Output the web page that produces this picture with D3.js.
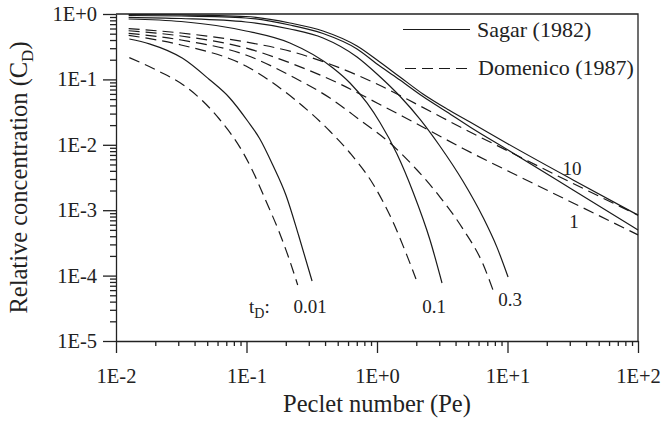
<!DOCTYPE html>
<html>
<head>
<meta charset="utf-8">
<title>Relative concentration vs Peclet number</title>
<script src="https://cdn.jsdelivr.net/npm/d3@7"></script>
<style>
body { margin: 0; background: #fff; }
text { font-family: "Liberation Serif", "Times New Roman", serif; fill: #222; }
.axis path, .axis line { stroke: #222; stroke-width: 1.3px; }
.axis text { font-size: 20.5px; }
.curve { fill: none; stroke: #1a1a1a; stroke-width: 1.2px; }
.dash { stroke-dasharray: 11,6; }
</style>
</head>
<body>
<svg id="chart" width="663" height="423"></svg>
<script>

// tick labels
var xTickValues = [0.01, 0.1, 1, 10, 100];
var xTickLabels = ["1E-2", "1E-1", "1E+0", "1E+1", "1E+2"];
var yTickValues = [1e-5, 1e-4, 1e-3, 1e-2, 1e-1, 1];
var yTickLabels = ["1E-5", "1E-4", "1E-3", "1E-2", "1E-1", "1E+0"];

// Sagar (1982), solid
var sagarPe10 = [0.0125, 0.0315, 0.099, 0.215, 0.386, 0.703, 1.05, 1.5, 2.25, 3.44, 5.16, 10.1, 31.8, 100];
var sagarC10  = [0.983, 0.972, 0.916, 0.728, 0.55, 0.324, 0.1845, 0.1088, 0.0598, 0.0353, 0.0223, 0.0103, 0.0029, 0.00084];
var sagarPe1  = [0.0125, 0.0315, 0.099, 0.215, 0.386, 0.703, 1.05, 1.5, 2.25, 3.44, 5.16, 10.1, 31.8, 100];
var sagarC1   = [0.949, 0.932, 0.869, 0.679, 0.503, 0.292, 0.160, 0.0979, 0.0548, 0.0317, 0.0187, 0.0083, 0.00204, 0.0005];
var sagarPe03 = [0.0125, 0.0315, 0.099, 0.215, 0.386, 0.703, 1.0, 1.5, 2.14, 3.04, 4.56, 6.49, 8.31, 10.1];
var sagarC03  = [0.89, 0.853, 0.755, 0.59, 0.43, 0.22, 0.121, 0.0552, 0.0245, 0.0095, 0.00277, 0.00078, 0.00027, 0.0000952];
var sagarPe01 = [0.0125, 0.0315, 0.0584, 0.099, 0.215, 0.46, 0.621, 0.838, 1.054, 1.423, 1.888, 2.548, 3.149];
var sagarC01  = [0.839, 0.768, 0.667, 0.55, 0.36, 0.1493, 0.0881, 0.0436, 0.0219, 0.00723, 0.0019, 0.00035, 0.000077];
var sagarPe001 = [0.01265, 0.018, 0.0324, 0.0519, 0.0738, 0.102, 0.126, 0.159, 0.201, 0.251, 0.318];
var sagarC001  = [0.415, 0.35, 0.21, 0.0997, 0.0529, 0.0231, 0.0125, 0.00491, 0.00168, 0.00041, 0.0000827];

// Domenico (1987), dashed
var domPe10 = [0.0125, 0.0315, 0.099, 0.227, 0.521, 1.0, 2.14, 5.16, 10.45, 31.8, 100];
var domC10  = [0.596, 0.512, 0.373, 0.2624, 0.1493, 0.085, 0.0392, 0.0157, 0.00776, 0.00256, 0.00084];
var domPe1  = [0.0125, 0.0315, 0.099, 0.227, 0.521, 1.0, 1.58, 2.55, 4.56, 10.45, 31.8, 100];
var domC1   = [0.555, 0.461, 0.302, 0.172, 0.085, 0.0436, 0.0271, 0.0163, 0.00878, 0.00384, 0.00129, 0.00042];
var domPe03 = [0.0125, 0.0315, 0.099, 0.227, 0.436, 0.741, 1.258, 2.026, 3.04, 4.56, 6.49, 7.74];
var domC03  = [0.507, 0.4, 0.236, 0.1088, 0.0519, 0.0239, 0.01065, 0.00412, 0.00159, 0.000516, 0.00015, 0.0000602];
var domPe01 = [0.0125, 0.0315, 0.099, 0.227, 0.436, 0.621, 0.932, 1.326, 1.698, 1.99];
var domC01  = [0.472, 0.336, 0.16, 0.0519, 0.0161, 0.00749, 0.00252, 0.00066, 0.000202, 0.0000887];
var domPe001 = [0.01265, 0.0215, 0.0324, 0.0462, 0.0619, 0.0935, 0.1115, 0.141, 0.178, 0.213, 0.2468];
var domC001  = [0.215, 0.132, 0.0836, 0.0467, 0.0248, 0.00776, 0.00398, 0.00138, 0.000464, 0.000176, 0.0000718];

var margin = {top: 14, right: 25, bottom: 82, left: 116},
    width = 663 - margin.left - margin.right,
    height = 423 - margin.top - margin.bottom;

var x = d3.scaleLog().domain([0.01, 100]).range([0, width]);
var y = d3.scaleLog().domain([1e-5, 1]).range([height, 0]);

var svg = d3.select("#chart").append("g")
    .attr("transform", "translate(" + margin.left + "," + margin.top + ")");

// minor tick positions 2..9 per decade
function minors(lo, hi) {
  var out = [];
  for (var e = lo; e < hi; e++)
    for (var k = 2; k <= 9; k++) out.push(k * Math.pow(10, e));
  return out;
}

// y axis
svg.append("g").attr("class", "axis")
    .call(d3.axisLeft(y).tickValues(minors(-5, 0)).tickFormat("").tickSize(6).tickSizeOuter(0))
    .select(".domain").remove();
svg.append("g").attr("class", "axis")
    .call(d3.axisLeft(y).tickValues(yTickValues)
      .tickFormat(function(d, i) { return yTickLabels[i]; })
      .tickSize(13).tickSizeOuter(0).tickPadding(6));

// x axis
svg.append("g").attr("class", "axis")
    .attr("transform", "translate(0," + height + ")")
    .call(d3.axisBottom(x).tickValues(minors(-2, 2)).tickFormat("").tickSize(5).tickSizeOuter(0))
    .select(".domain").remove();
svg.append("g").attr("class", "axis")
    .attr("transform", "translate(0," + height + ")")
    .call(d3.axisBottom(x).tickValues(xTickValues)
      .tickFormat(function(d, i) { return xTickLabels[i]; })
      .tickSize(12).tickSizeOuter(0).tickPadding(15));

// top and right frame
svg.append("path")
    .attr("d", "M0,0H" + width + "V" + height)
    .attr("fill", "none").attr("stroke", "#222").attr("stroke-width", 1.3);

// curves
var series = [
  {pe: sagarPe10, c: sagarC10, dash: false},
  {pe: sagarPe1, c: sagarC1, dash: false},
  {pe: sagarPe03, c: sagarC03, dash: false},
  {pe: sagarPe01, c: sagarC01, dash: false},
  {pe: sagarPe001, c: sagarC001, dash: false},
  {pe: domPe10, c: domC10, dash: true},
  {pe: domPe1, c: domC1, dash: true},
  {pe: domPe03, c: domC03, dash: true},
  {pe: domPe01, c: domC01, dash: true},
  {pe: domPe001, c: domC001, dash: true}
];

var line = d3.line()
    .x(function(d) { return x(d[0]); })
    .y(function(d) { return y(d[1]); })
    .curve(d3.curveMonotoneX);

series.forEach(function(s) {
  svg.append("path")
      .datum(d3.zip(s.pe, s.c))
      .attr("class", s.dash ? "curve dash" : "curve")
      .attr("d", line);
});

// t_D labels
var lab = svg.append("g").style("font-size", "19px").attr("text-anchor", "middle");
lab.append("text").attr("x", 456).attr("y", 161).text("10");
lab.append("text").attr("x", 458).attr("y", 214).text("1");
lab.append("text").attr("x", 394).attr("y", 292).text("0.3");
lab.append("text").attr("x", 318).attr("y", 299).text("0.1");
lab.append("text").attr("x", 194).attr("y", 299).text("0.01");
var td = svg.append("text").attr("x", 133).attr("y", 299).style("font-size", "19px");
td.append("tspan").text("t");
td.append("tspan").attr("dy", 5).style("font-size", "14px").text("D");
td.append("tspan").attr("dy", -5).text(":");

// legend
var leg = svg.append("g");
leg.append("line").attr("class", "curve").attr("x1", 287).attr("x2", 354).attr("y1", 15.5).attr("y2", 15.5);
leg.append("line").attr("class", "curve dash").attr("x1", 289).attr("x2", 354).attr("y1", 54.5).attr("y2", 54.5);
leg.append("text").attr("x", 361).attr("y", 22.5).style("font-size", "22px").text("Sagar (1982)");
leg.append("text").attr("x", 362).attr("y", 61).style("font-size", "22px").text("Domenico (1987)");

// axis titles
svg.append("text")
    .attr("x", width / 2).attr("y", height + 71)
    .attr("text-anchor", "middle").style("font-size", "24.5px")
    .text("Peclet number (Pe)");

var yt = svg.append("text")
    .attr("transform", "translate(-89," + (height / 2) + ") rotate(-90)")
    .attr("text-anchor", "middle").style("font-size", "24.5px");
yt.append("tspan").text("Relative concentration (C");
yt.append("tspan").attr("dy", 6).style("font-size", "17px").text("D");
yt.append("tspan").attr("dy", -6).text(")");

</script>
</body>
</html>
